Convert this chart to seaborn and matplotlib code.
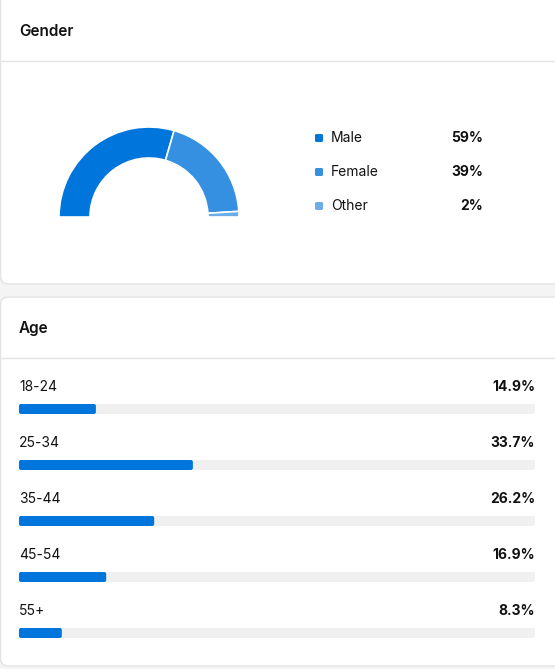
import matplotlib
matplotlib.use("Agg")
import matplotlib.pyplot as plt
from matplotlib.patches import FancyBboxPatch
import pandas as pd
import seaborn as sns

# Gender split (percent)
genders = ["Male", "Female", "Other"]
gender_pct = [59, 39, 2]
gender_colors = ["#0075db", "#3590e1", "#6aade9"]

# Age groups (percent)
age_groups = ["18-24", "25-34", "35-44", "45-54", "55+"]
age_pct = [14.9, 33.7, 26.2, 16.9, 8.3]

W, H = 555, 669
sns.set_theme(style="white")
plt.rcParams["font.family"] = ["Inter", "DejaVu Sans"]

fig = plt.figure(figsize=(W / 100, H / 100), dpi=100)
fig.patch.set_facecolor("#f4f4f4")


def px_axes(left, top, width, height):
    return fig.add_axes([left / W, 1 - (top + height) / H, width / W, height / H])


# background layer in pixel coordinates for cards and dividers
bg = fig.add_axes([0, 0, 1, 1])
bg.set_xlim(0, W)
bg.set_ylim(H, 0)
bg.axis("off")
for top, bottom in [(-10, 284), (297, 666)]:
    bg.add_patch(FancyBboxPatch((0.5, top), W + 20, bottom - top,
                                boxstyle="round,pad=0,rounding_size=8",
                                facecolor="white", edgecolor="#e3e3e3", lw=1))
bg.plot([0, W], [60.5, 60.5], color="#e3e3e3", lw=1)
bg.plot([0, W], [357.5, 357.5], color="#e3e3e3", lw=1)
bg.text(19, 31, "Gender", fontsize=11, fontweight="semibold", color="#111111", va="center")
bg.text(19, 328, "Age", fontsize=11, fontweight="semibold", color="#111111", va="center")

# half donut
cx, cy, r_out, r_in = 149, 217, 90, 59
ax_d = px_axes(cx - r_out, cy - r_out, 2 * r_out, 2 * r_out)
wedges, _ = ax_d.pie(gender_pct + [sum(gender_pct)], startangle=180, counterclock=False,
                     colors=gender_colors + ["none"],
                     wedgeprops=dict(width=(r_out - r_in) / r_out, edgecolor="white", linewidth=1.2))
wedges[-1].set_edgecolor("none")
ax_d.set_aspect("equal")
ax_d.set_xlim(-1, 1)
ax_d.set_ylim(-1, 1)

# legend
for i, (g, p, c) in enumerate(zip(genders, gender_pct, gender_colors)):
    y = 138 + 34 * i
    bg.add_patch(FancyBboxPatch((315, y - 4), 8, 8, boxstyle="round,pad=0,rounding_size=1.5",
                                facecolor=c, edgecolor="none"))
    bg.text(331, y, g, fontsize=10, color="#111111", va="center")
    bg.text(483, y, f"{p}%", fontsize=10, fontweight="bold", color="#111111", va="center", ha="right")

# age bars
df = pd.DataFrame({"age": age_groups, "pct": age_pct, "track": [100] * len(age_groups)})
row_h = 56
track_w = 516
ax_a = px_axes(19, 381, track_w, row_h * len(age_groups))
sns.barplot(data=df, y="age", x="track", color="#f0f0f0", width=10 / row_h, ax=ax_a, orient="h")
sns.barplot(data=df, y="age", x="pct", color="#0075db", width=10 / row_h, ax=ax_a, orient="h",
            saturation=1)
ax_a.set_xlim(0, 100)
ax_a.set_ylim(len(age_groups) - 0.5, -0.5)
ax_a.axis("off")

# rounded ends on the bars
x_per_px = 100 / track_w
y_per_px = 1 / row_h
for patch in list(ax_a.patches):
    x0, y0, w, h = patch.get_x(), patch.get_y(), patch.get_width(), patch.get_height()
    rounded = FancyBboxPatch((x0, y0), w, h,
                             boxstyle=f"round,pad=0,rounding_size={2 * x_per_px}",
                             mutation_aspect=y_per_px / x_per_px,
                             facecolor=patch.get_facecolor(), edgecolor="none")
    patch.remove()
    ax_a.add_patch(rounded)

for i, (a, p) in enumerate(zip(age_groups, age_pct)):
    ax_a.text(0, i - 22 / row_h, a, fontsize=10, color="#111111", va="center", clip_on=False)
    ax_a.text(100, i - 22 / row_h, f"{p}%", fontsize=10, fontweight="bold", color="#111111",
              va="center", ha="right", clip_on=False)

fig.savefig("out.png", dpi=100, facecolor=fig.get_facecolor())
